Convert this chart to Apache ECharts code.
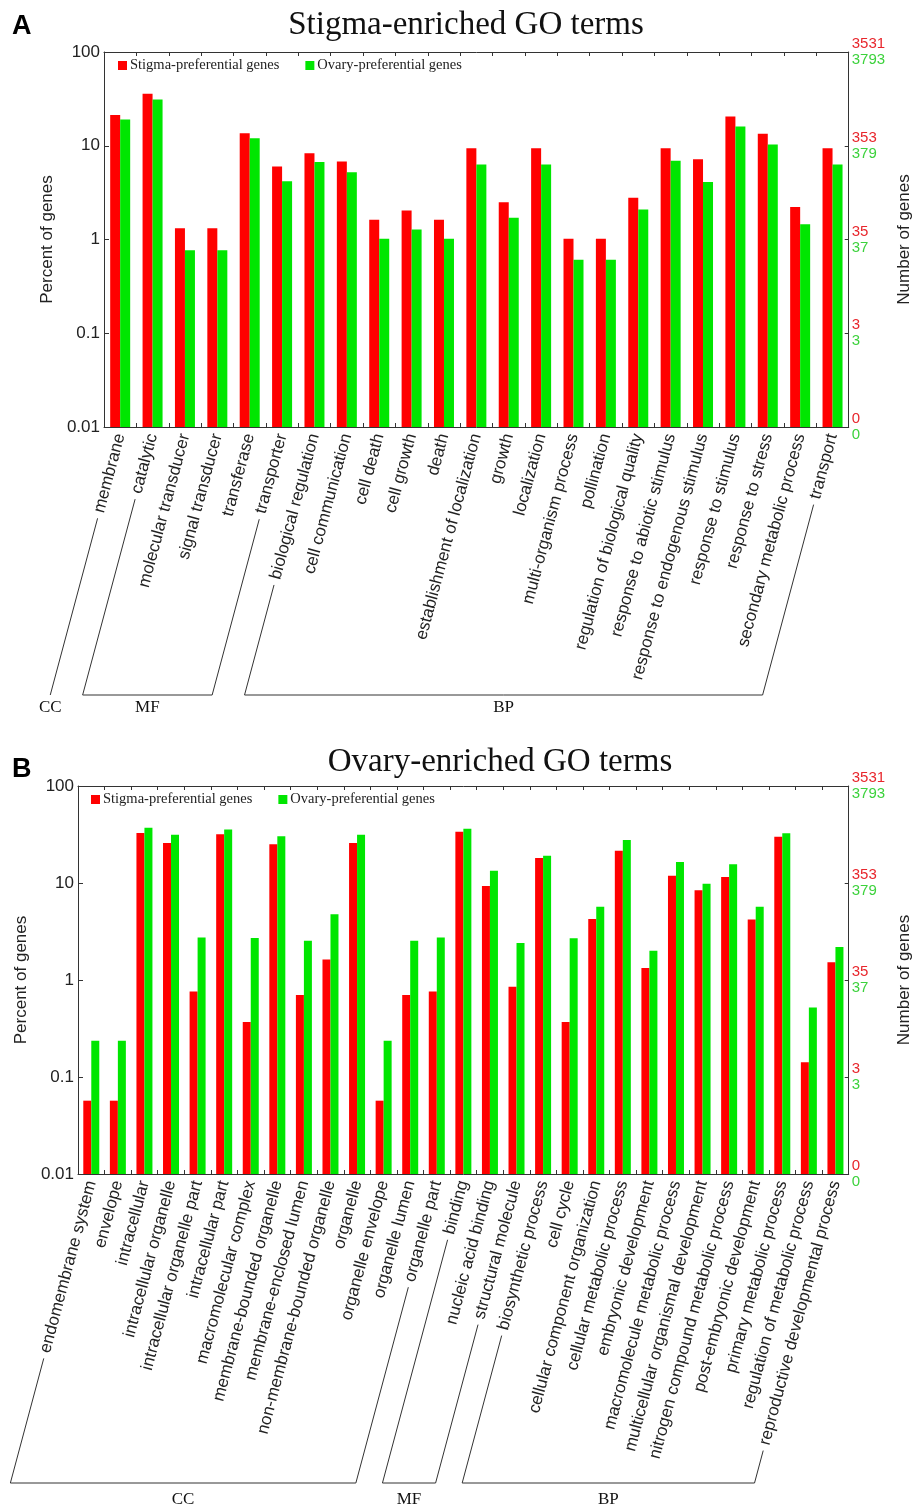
<!DOCTYPE html>
<html><head><meta charset="utf-8">
<script src="https://cdn.jsdelivr.net/npm/echarts@6/dist/echarts.min.js"></script>
<style>html,body{margin:0;padding:0;background:#fff}#c{width:921px;height:1511px}</style>
</head><body><div id="c"></div>
<script>
// ---------- data ----------
const catsA = ['membrane','catalytic','molecular transducer','signal transducer','transferase','transporter','biological regulation','cell communication','cell death','cell growth','death','establishment of localization','growth','localization','multi-organism process','pollination','regulation of biological quality','response to abiotic stimulus','response to endogenous stimulus','response to stimulus','response to stress','secondary metabolic process','transport'];
const stigmaA = [21.3,35.8,1.32,1.32,13.6,6.0,8.3,6.8,1.62,2.04,1.62,9.4,2.5,9.4,1.02,1.02,2.79,9.4,7.2,20.5,13.4,2.22,9.4];
const ovaryA  = [19.1,31.2,0.77,0.77,12.0,4.17,6.7,5.2,1.02,1.28,1.02,6.3,1.71,6.3,0.61,0.61,2.09,6.9,4.1,16.0,10.3,1.45,6.3];
const groupsA = [['CC',0,0],['MF',1,5],['BP',6,22]];

const catsB = ['endomembrane system','envelope','intracellular','intracellular organelle','intracellular organelle part','intracellular part','macromolecular complex','membrane-bounded organelle','membrane-enclosed lumen','non-membrane-bounded organelle','organelle','organelle envelope','organelle lumen','organelle part','binding','nucleic acid binding','structural molecule','biosynthetic process','cell cycle','cellular component organization','cellular metabolic process','embryonic development','macromolecule metabolic process','multicellular organismal development','nitrogen compound metabolic process','post-embryonic development','primary metabolic process','regulation of metabolic process','reproductive developmental process'];
const stigmaB = [0.057,0.057,32.7,25.8,0.76,31.8,0.37,25.1,0.70,1.63,25.8,0.057,0.70,0.76,33.8,9.3,0.85,18.1,0.37,4.25,21.5,1.33,11.9,8.4,11.5,4.2,30.0,0.142,1.52];
const ovaryB  = [0.237,0.237,37.2,31.5,2.75,35.7,2.71,30.3,2.54,4.76,31.5,0.237,2.54,2.75,36.3,13.4,2.40,19.1,2.70,5.7,27.7,2.0,16.5,9.8,15.6,5.7,32.5,0.52,2.19];
const groupsB = [['CC',0,13],['MF',14,16],['BP',17,28]];

const leftTickLabels = ['0.01','0.1','1','10','100'];
const rightStigmaLabels = ['0','3','35','353','3531'];
const rightOvaryLabels  = ['0','3','37','379','3793'];
const seriesNames = ['Stigma-preferential genes','Ovary-preferential genes'];
const titles = ['Stigma-enriched GO terms','Ovary-enriched GO terms'];
const panelLetters = ['A','B'];

// ---------- styles ----------
const RED = '#ff0000', GREEN = '#00e600';
const AX = '#333';
const SANS = 'Arial, "Liberation Sans", sans-serif';
const SERIF = '"Times New Roman", "Liberation Serif", serif';
const LABEL_FS = 17, LABEL_MARGIN = 7;

const panels = [
  {cats: catsA, s: stigmaA, o: ovaryA, groups: groupsA, grid: {left:104, top:52, width:750, height:375}, barW: 10, rot: 75,
   legend: {left:113, top:53}, title: [466, 25], letter: [12, 27], baseY: 695, gLabelY: 708},
  {cats: catsB, s: stigmaB, o: ovaryB, groups: groupsB, grid: {left:78, top:786, width:777, height:388}, barW: 8, rot: 75,
   legend: {left:86, top:787}, title: [500, 762], letter: [12, 770], baseY: 1483, gLabelY: 1500}
];

function idx(v){ return Math.round(Math.log10(v) + 2); }

const option = {
  animation: false,
  backgroundColor: '#fff',
  grid: [], xAxis: [], yAxis: [], series: [], legend: []
};

panels.forEach((p, k) => {
  option.grid.push(Object.assign({containLabel:false}, p.grid));
  option.xAxis.push({
    type: 'category', gridIndex: k, data: p.cats, position: 'bottom',
    axisLine: {lineStyle: {color: AX, width: 1}},
    axisTick: {show: true, inside: true, length: 4, interval: 0, lineStyle: {color: AX}},
    axisLabel: {interval: 0, rotate: p.rot, margin: LABEL_MARGIN, fontSize: LABEL_FS, fontFamily: SANS, color: '#222'}
  });
  option.xAxis.push({
    type: 'category', gridIndex: k, data: p.cats, position: 'top',
    axisLine: {lineStyle: {color: AX, width: 1}},
    axisTick: {show: true, inside: true, length: 4, interval: 0, lineStyle: {color: AX}},
    axisLabel: {show: false, interval: 0}
  });
  option.yAxis.push({
    type: 'log', logBase: 10, gridIndex: k, min: 0.01, max: 100, startValue: 0.01, position: 'left',
    name: 'Percent of genes', nameLocation: 'middle', nameRotate: 90, nameGap: k === 0 ? 34 : 32,
    nameTextStyle: {fontFamily: SANS, fontSize: 17, color: '#222'},
    axisLine: {show: true, lineStyle: {color: AX, width: 1}},
    axisTick: {show: true, inside: true, length: 5, lineStyle: {color: AX}},
    splitLine: {show: false},
    axisLabel: {margin: 4, fontFamily: SANS, fontSize: 17, color: '#222', formatter: v => leftTickLabels[idx(v)]}
  });
  option.yAxis.push({
    type: 'log', logBase: 10, gridIndex: k, min: 0.01, max: 100, startValue: 0.01, position: 'right',
    name: 'Number of genes', nameLocation: 'middle', nameRotate: 90, nameGap: 45,
    nameTextStyle: {fontFamily: SANS, fontSize: 17, color: '#222'},
    axisLine: {show: true, lineStyle: {color: AX, width: 1}},
    axisTick: {show: true, inside: true, length: 4, lineStyle: {color: AX}},
    splitLine: {show: false},
    axisLabel: {margin: 3, align: 'left', fontFamily: SANS, fontSize: 15,
      formatter: v => '{r|' + rightStigmaLabels[idx(v)] + '}\n{g|' + rightOvaryLabels[idx(v)] + '}',
      rich: {r: {color: '#e8262c', fontSize: 15, fontFamily: SANS, lineHeight: 16},
             g: {color: '#3cd23c', fontSize: 15, fontFamily: SANS, lineHeight: 16}}}
  });
  option.series.push({
    type: 'bar', name: seriesNames[0], xAxisIndex: 2*k, yAxisIndex: 2*k, data: p.s,
    barWidth: p.barW, barGap: '0%', itemStyle: {color: RED}
  });
  option.series.push({
    type: 'bar', name: seriesNames[1], xAxisIndex: 2*k, yAxisIndex: 2*k, data: p.o,
    barWidth: p.barW, barGap: '0%', itemStyle: {color: GREEN}
  });
  option.legend.push({
    data: seriesNames, left: p.legend.left, top: p.legend.top, orient: 'horizontal',
    icon: 'rect', itemWidth: 9, itemHeight: 9, itemGap: 26,
    textStyle: {fontFamily: SERIF, fontSize: 14.5, color: '#222', padding: [0,0,0,-2]},
    selectedMode: false
  });
});

const chart = echarts.init(document.getElementById('c'), null, {renderer: 'canvas'});
chart.setOption(option);

// ---------- annotations (titles, letters, group brackets) ----------
const cv = document.createElement('canvas').getContext('2d');
cv.font = LABEL_FS + 'px ' + SANS;
const graphics = [];

panels.forEach((p, k) => {
  const th = p.rot * Math.PI / 180;
  const dx = -Math.cos(th), dy = Math.sin(th);
  graphics.push({type: 'text', x: p.title[0], y: p.title[1],
    style: {text: titles[k], font: '33px ' + SERIF, fill: '#111', textAlign: 'center', textVerticalAlign: 'middle'}});
  graphics.push({type: 'text', x: p.letter[0], y: p.letter[1],
    style: {text: panelLetters[k], font: 'bold 27px ' + SANS, fill: '#000', textAlign: 'left', textVerticalAlign: 'middle'}});
  const axisY = p.grid.top + p.grid.height;
  function lineFor(i){
    const cx = chart.convertToPixel({xAxisIndex: 2*k}, p.cats[i]);
    const w = cv.measureText(p.cats[i]).width;
    const d = w + 6;
    const sx = cx + d*dx, sy = axisY + LABEL_MARGIN + d*dy;
    const ex = sx + (p.baseY - sy) * dx / dy;
    return {sx, sy, ex, ey: p.baseY};
  }
  p.groups.forEach(g => {
    const a = lineFor(g[1]);
    let cxl;
    if (g[1] === g[2]) {
      graphics.push({type: 'polyline', shape: {points: [[a.sx,a.sy],[a.ex,a.ey]]}, style: {stroke: AX, lineWidth: 1, fill: null}});
      cxl = a.ex;
    } else {
      const b = lineFor(g[2]);
      graphics.push({type: 'polyline', shape: {points: [[a.sx,a.sy],[a.ex,a.ey],[b.ex,b.ey],[b.sx,b.sy]]}, style: {stroke: AX, lineWidth: 1, fill: null}});
      cxl = (a.ex + b.ex) / 2;
    }
    graphics.push({type: 'text', x: cxl, y: p.gLabelY,
      style: {text: g[0], font: '17px ' + SERIF, fill: '#111', textAlign: 'center', textVerticalAlign: 'middle'}});
  });
});
chart.setOption({graphic: graphics});
</script>
</body></html>
